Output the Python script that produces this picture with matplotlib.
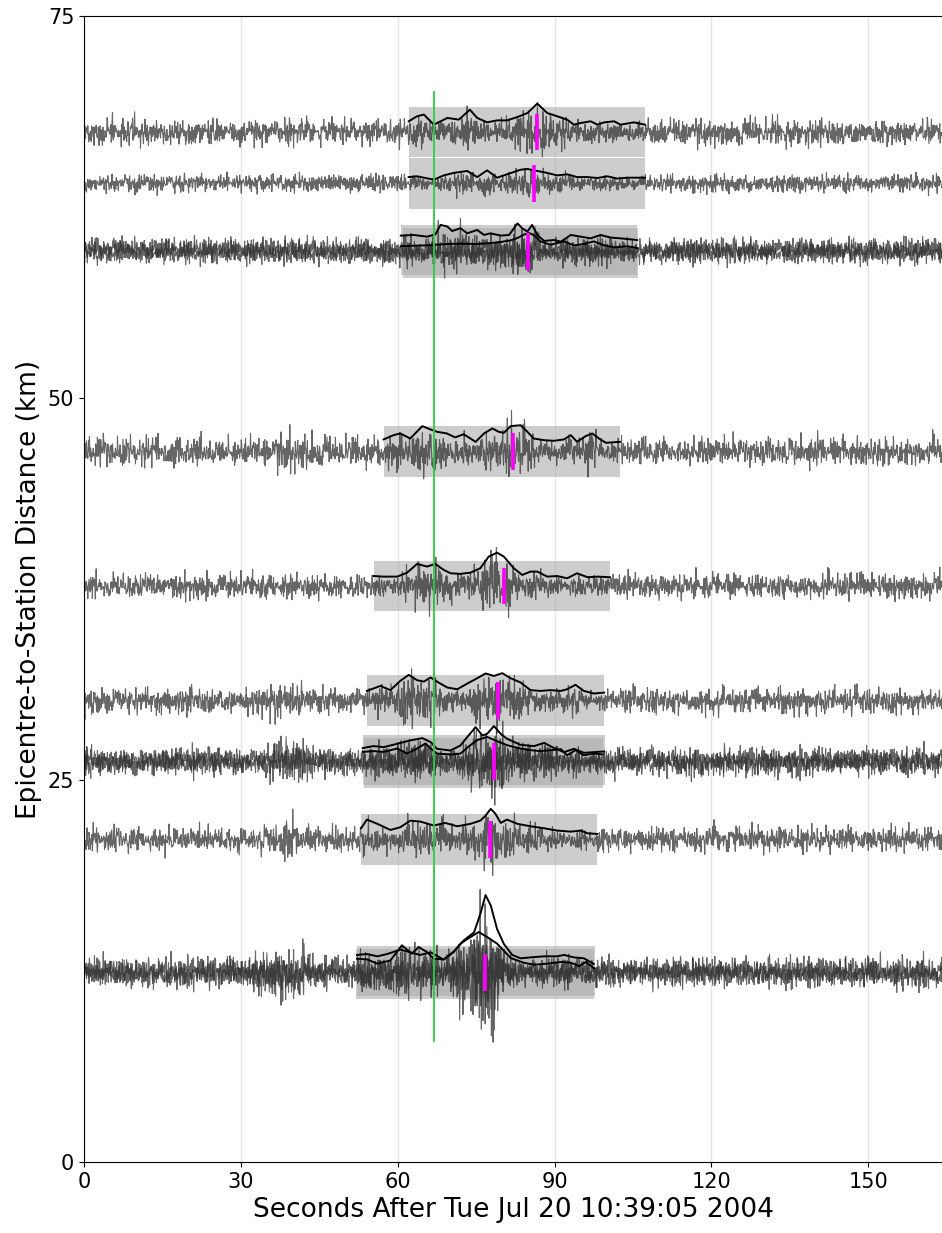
import matplotlib
matplotlib.use("Agg")
import matplotlib.pyplot as plt
import numpy as np

# ---- data read off the record section ----
# one entry per trace: distance (km), analysis window (s), background amplitude
dist      = [67.4, 64.05, 59.7, 59.5, 46.5, 37.7, 30.2, 26.3, 26.1, 21.1, 12.5, 12.3]
win_start = [62.1, 62.1, 60.6, 61.0, 57.3, 55.4, 54.1, 53.3, 53.6, 53.0, 52.2, 52.1]
win_end   = [107.3, 107.3, 105.8, 106.0, 102.5, 100.6, 99.5, 99.6, 99.2, 98.2, 97.7, 97.5]
bg_amp    = [1.15, 0.8, 1.0, 1.0, 1.25, 1.05, 1.1, 1.1, 1.1, 1.1, 1.15, 1.15]

# earlier bursts outside the windows: (trace, start, peak, end, amplitude)
BURSTS = [(4, 34.0, 40.0, 46.0, 1.8), (6, 32.0, 37.5, 45.0, 1.8), (7, 34.0, 40.0, 44.0, 1.9),
          (8, 34.0, 39.4, 44.0, 1.8), (9, 33.0, 39.4, 44.0, 1.8), (10, 30.0, 37.0, 47.0, 2.3),
          (11, 30.0, 38.0, 47.0, 2.3)]

# smoothed envelopes drawn in black: (seconds, height above trace in km units)
ENV_T1 = [(62.1, 0.71), (63.7, 1.04), (65.0, 1.15), (66.9, 0.49), (69.5, 0.93), (71.7, 0.82),
          (73.8, 1.47), (75.2, 0.93), (77.1, 0.64), (79.0, 0.77), (80.9, 0.77), (82.9, 0.99),
          (84.8, 1.25), (86.7, 1.87), (88.6, 1.25), (90.5, 1.04), (92.4, 0.82), (93.7, 0.49),
          (95.0, 0.60), (96.9, 0.71), (98.2, 0.49), (99.5, 0.64), (101.4, 0.71), (102.6, 0.49),
          (105.2, 0.64), (107.3, 0.49)]
ENV_T2 = [(62.1, 0.41), (63.7, 0.46), (65.0, 0.37), (66.9, 0.24), (68.8, 0.52), (70.7, 0.68),
          (73.3, 0.81), (75.2, 0.41), (77.1, 0.85), (79.0, 0.37), (80.9, 0.59), (83.5, 0.89),
          (84.8, 0.94), (86.7, 0.81), (88.6, 0.68), (90.5, 0.52), (92.4, 0.59), (94.3, 0.41),
          (96.3, 0.41), (98.2, 0.35), (100.1, 0.46), (102.0, 0.31), (103.9, 0.37), (107.3, 0.37)]
ENV_T3A = [(60.6, 0.93), (63.1, 0.97), (65.6, 0.86), (67.2, 1.01), (68.2, 1.63), (69.5, 1.52),
           (70.4, 1.23), (72.0, 1.41), (73.3, 1.08), (75.2, 1.30), (76.5, 0.97), (77.7, 1.08),
           (79.7, 0.93), (81.3, 0.97), (82.9, 1.73), (83.8, 1.41), (84.8, 1.19), (85.7, 1.63),
           (86.7, 0.97), (88.0, 0.58), (89.9, 0.64), (91.2, 0.53), (93.1, 0.97), (95.0, 0.86),
           (96.9, 0.75), (98.8, 0.97), (100.7, 0.80), (102.6, 0.75), (105.8, 0.64)]
ENV_T3B = [(60.6, 0.43), (63.1, 0.47), (65.6, 0.49), (67.2, 0.53), (69.5, 0.58), (72.0, 0.60),
           (75.2, 0.58), (77.7, 0.64), (79.7, 0.71), (81.6, 0.82), (82.9, 0.97), (84.1, 1.19),
           (85.1, 1.30), (86.1, 1.15), (87.3, 0.75), (89.2, 0.53), (91.8, 0.75), (93.7, 0.49),
           (95.6, 0.58), (97.5, 0.75), (99.5, 0.49), (101.4, 0.36), (103.9, 0.43), (105.8, 0.32)]
ENV_T4 = [(57.3, 0.79), (59.2, 1.07), (60.5, 1.18), (62.4, 0.85), (64.7, 1.66), (66.3, 1.44),
          (67.5, 1.29), (69.4, 1.18), (71.0, 0.92), (72.6, 1.13), (73.9, 0.85), (74.9, 0.63),
          (76.5, 1.18), (78.1, 1.51), (79.3, 1.29), (80.3, 1.22), (81.6, 1.66), (83.5, 1.72),
          (84.8, 1.29), (86.0, 0.85), (88.0, 0.74), (89.9, 0.70), (91.8, 0.79), (93.1, 1.07),
          (94.3, 0.63), (95.9, 1.00), (97.2, 1.18), (98.5, 0.85), (99.8, 0.57), (102.5, 0.63)]
ENV_T5 = [(55.4, 0.65), (57.3, 0.61), (59.9, 0.61), (61.8, 0.87), (63.7, 1.44), (65.6, 1.27),
          (67.2, 1.44), (68.8, 1.05), (70.1, 0.83), (72.0, 0.79), (73.9, 0.87), (75.8, 1.16),
          (77.4, 1.92), (79.0, 2.18), (80.3, 1.92), (82.2, 1.16), (83.8, 0.72), (85.4, 0.94),
          (86.7, 0.94), (88.6, 0.61), (90.5, 0.65), (92.4, 0.50), (94.3, 0.83), (96.3, 0.57),
          (98.2, 0.61), (100.6, 0.57)]
ENV_T6 = [(54.1, 0.63), (56.7, 0.96), (58.6, 0.68), (60.5, 1.29), (62.1, 1.68), (63.7, 1.33),
          (65.0, 1.24), (66.3, 1.51), (67.5, 1.24), (69.5, 0.85), (71.4, 0.74), (73.3, 1.11),
          (75.2, 1.46), (76.8, 1.77), (78.4, 1.61), (80.0, 1.79), (81.6, 1.46), (83.5, 1.18),
          (85.4, 0.68), (87.3, 0.63), (89.2, 0.68), (91.2, 0.63), (92.4, 0.74), (94.0, 1.03),
          (95.6, 0.63), (97.5, 0.46), (99.5, 0.52)]
ENV_T7A = [(53.3, 0.79), (55.4, 0.92), (57.3, 0.85), (59.9, 1.07), (62.4, 1.29), (64.7, 1.44),
           (66.3, 1.18), (67.5, 0.74), (70.1, 0.63), (72.0, 0.96), (73.3, 1.51), (74.9, 2.16),
           (76.2, 1.61), (77.1, 1.72), (78.4, 2.23), (79.7, 1.72), (80.9, 1.40), (83.5, 1.00),
           (86.1, 0.92), (88.0, 1.13), (89.9, 0.79), (91.8, 0.52), (93.7, 0.74), (95.6, 0.48),
           (97.5, 0.52), (99.5, 0.57)]
ENV_T7B = [(53.3, 0.74), (55.4, 0.79), (57.3, 0.74), (59.9, 0.96), (61.8, 0.63), (63.7, 0.96),
           (65.3, 1.29), (66.3, 0.96), (67.5, 0.63), (70.1, 0.57), (72.0, 0.63), (73.9, 1.18),
           (75.2, 1.51), (77.1, 1.72), (79.0, 1.44), (80.9, 1.18), (82.9, 1.00), (85.4, 0.85),
           (87.3, 0.79), (89.2, 0.85), (91.2, 0.92), (92.4, 0.52), (94.0, 0.85), (95.6, 0.52),
           (97.5, 0.63), (99.2, 0.57)]
ENV_T8 = [(53.0, 0.74), (54.1, 1.31), (56.1, 1.03), (58.6, 0.63), (60.5, 0.81), (62.4, 1.24),
          (64.3, 1.18), (66.9, 0.92), (69.1, 1.09), (71.4, 0.87), (73.9, 1.03), (75.8, 1.24),
          (76.8, 1.57), (77.8, 2.01), (78.7, 1.68), (79.7, 1.09), (80.9, 1.31), (82.9, 1.03),
          (85.4, 0.87), (88.0, 0.74), (90.5, 0.59), (93.1, 0.52), (95.0, 0.59), (96.3, 0.41),
          (98.2, 0.37)]
ENV_T9A = [(52.2, 1.05), (54.1, 1.11), (56.1, 0.96), (58.0, 1.11), (60.5, 1.40), (62.4, 1.22),
           (64.3, 1.05), (66.3, 1.22), (68.8, 0.74), (70.7, 1.27), (72.6, 1.99), (74.6, 2.53),
           (75.8, 3.73), (76.8, 4.97), (77.8, 4.28), (79.0, 2.75), (80.3, 1.77), (81.9, 1.05),
           (83.5, 0.83), (85.4, 0.89), (88.0, 0.96), (90.5, 0.96), (91.8, 1.05), (93.7, 0.89),
           (95.6, 0.83), (97.5, 0.46)]
ENV_T9B = [(52.2, 1.00), (54.1, 0.96), (56.1, 0.68), (58.6, 0.89), (60.8, 1.88), (62.7, 1.33),
           (64.0, 1.77), (65.6, 1.44), (66.9, 1.00), (68.8, 0.96), (70.7, 1.44), (72.0, 1.99),
           (73.9, 2.42), (75.5, 2.75), (77.1, 2.42), (79.0, 1.99), (81.6, 1.05), (84.1, 0.74),
           (86.1, 0.61), (88.6, 0.68), (91.2, 0.79), (93.1, 0.74), (94.7, 0.52), (96.0, 0.79),
           (97.5, 0.39)]
envelopes = [ENV_T1, ENV_T2, ENV_T3A, ENV_T3B, ENV_T4, ENV_T5, ENV_T6,
             ENV_T7A, ENV_T7B, ENV_T8, ENV_T9A, ENV_T9B]

# magenta picks (s) and the distance they sit at
pick_t = [86.7, 86.1, 84.9, 82.1, 80.3, 79.1, 78.4, 77.7, 76.6]
pick_d = [67.4, 64.05, 59.6, 46.5, 37.7, 30.2, 26.2, 21.1, 12.4]

# green reference time and its vertical extent
ref_t = 67.0
ref_d = (7.9, 70.0)

# ground-motion wiggle shape (unreadable noise, hand-typed once and reused)
NOISE_A = [0.31, -0.72, 0.15, 0.88, -0.44, -0.09, 0.63, -0.95, 0.27, 0.52, -0.33, -0.81, 0.07,
           0.94, -0.58, 0.21, -0.16, 0.71, -0.39, -0.67, 0.45, 0.12, -0.89, 0.36, 0.78, -0.24,
           -0.52, 0.05, 0.66, -0.71, 0.29, -0.13, 0.83, -0.47, -0.92, 0.18, 0.57, -0.28, 0.41,
           -0.61, 0.02, 0.75, -0.36, -0.05, 0.97, -0.55, 0.24, -0.84, 0.49, 0.11, -0.42, 0.69,
           -0.19, -0.77, 0.34, 0.86, -0.63, 0.08, -0.31, 0.53, -0.99]
NOISE_B = [0.62, -0.18, -0.85, 0.41, 0.09, -0.57, 0.93, -0.26, 0.35, -0.74, 0.14, 0.68, -0.46,
           -0.03, 0.81, -0.65, 0.22, -0.38, 0.55, -0.91, 0.47, 0.16, -0.29, 0.72, -0.51, 0.04,
           -0.87, 0.39, 0.26, -0.64, 0.77, -0.12, -0.43, 0.58, -0.79, 0.33, 0.95, -0.21, -0.69,
           0.13, 0.48, -0.35, 0.84, -0.58, 0.01, -0.94, 0.67, 0.28, -0.15, -0.53, 0.74, -0.41,
           0.19]

xticks = [0, 30, 60, 90, 120, 150]
yticks = [0, 25, 50, 75]

# ---- figure ----
fig = plt.figure(figsize=(9.42, 12.33), dpi=100)
ax = fig.add_axes([0.0892, 0.0576, 0.9108, 0.9294])

t = np.arange(0, 164.2, 0.08)
na = np.array(NOISE_A)
nb = np.array(NOISE_B)
idx = np.arange(len(t))

for k in range(len(dist)):
    env = np.array(envelopes[k])
    carrier = (0.3 * nb[(2 * idx + 5 * k) % len(nb)]
               + na[(idx + 7 * k) % len(na)] * nb[(3 * idx + 11 * k) % len(nb)])
    amp = np.full(len(t), bg_amp[k])
    for b in BURSTS:
        if b[0] == k:
            amp = np.maximum(amp, np.interp(t, [b[1], b[2], b[3]], [bg_amp[k], b[4], bg_amp[k]]))
    inside = (t >= win_start[k]) & (t <= win_end[k])
    amp = np.where(inside, 1.45 * np.interp(t, env[:, 0], env[:, 1]), amp)
    ax.plot(t, dist[k] + amp * carrier, color='#2e2e2e', alpha=0.73, lw=0.8, zorder=2)
    ax.add_patch(plt.Rectangle((win_start[k], dist[k] - 1.65), win_end[k] - win_start[k], 3.3,
                               facecolor='0.68', alpha=0.6, edgecolor='none', zorder=1))
    ax.plot(env[:, 0], dist[k] + env[:, 1], color='k', lw=1.4, zorder=3)

for pt, pd in zip(pick_t, pick_d):
    ax.plot([pt, pt], [pd - 1.2, pd + 1.2], color='#ff00ff', lw=2.6, zorder=4, solid_capstyle='butt')

ax.plot([ref_t, ref_t], ref_d, color='#2ecc40', lw=1.3, zorder=5)

ax.set_xlim(0, 164.1)
ax.set_ylim(0, 75)
ax.set_xticks(xticks)
ax.set_yticks(yticks)
ax.grid(axis='x', color='#e5e5e5', lw=1)
ax.set_axisbelow(True)
ax.spines['right'].set_visible(False)
ax.tick_params(labelsize=15)
ax.set_xlabel('Seconds After Tue Jul 20 10:39:05 2004', fontsize=19)
ax.set_ylabel('Epicentre-to-Station Distance (km)', fontsize=19)

fig.savefig('out.png', dpi=100)
